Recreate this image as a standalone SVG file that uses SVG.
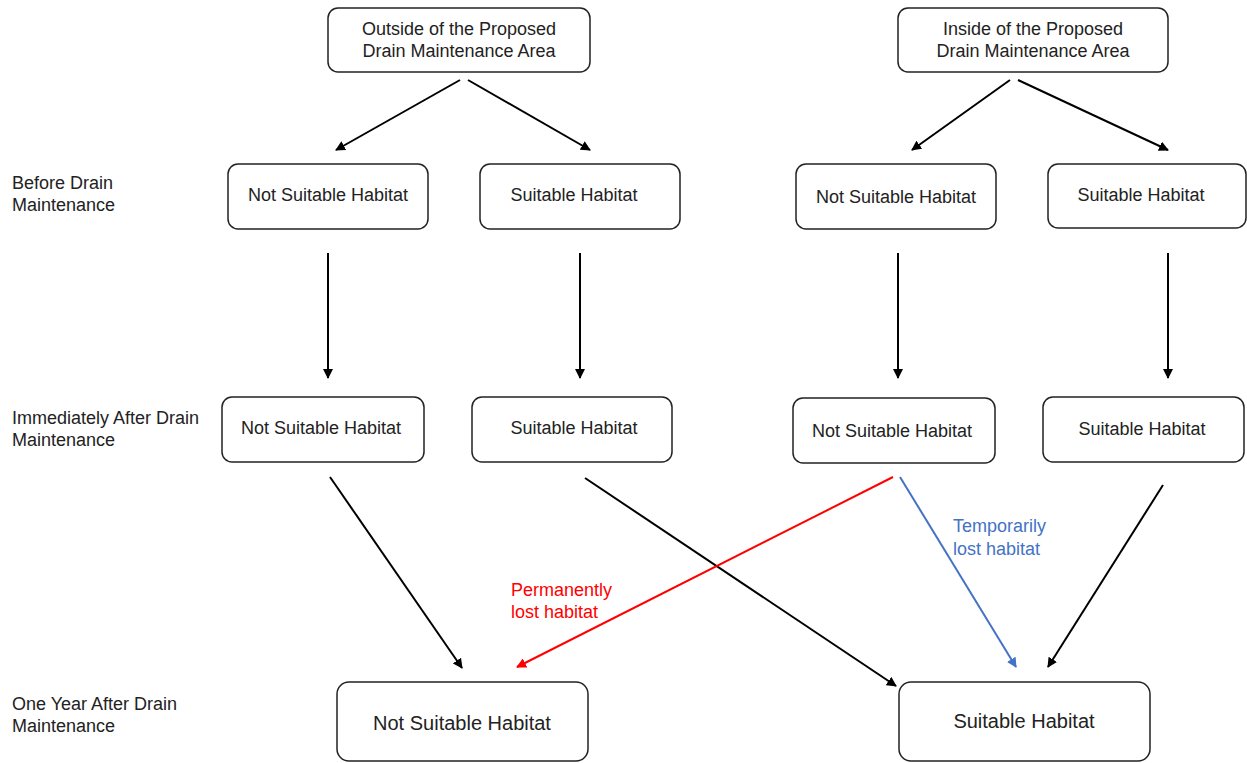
<svg xmlns="http://www.w3.org/2000/svg" width="1247" height="763" viewBox="0 0 1247 763">
<defs>
<marker id="ah" markerWidth="10" markerHeight="10" refX="9" refY="5" orient="auto" markerUnits="userSpaceOnUse"><path d="M0,0 L10,5 L0,10 z" fill="#000"/></marker>
<marker id="ahr" markerWidth="10" markerHeight="10" refX="9" refY="5" orient="auto" markerUnits="userSpaceOnUse"><path d="M0,0 L10,5 L0,10 z" fill="#ff0000"/></marker>
<marker id="ahb" markerWidth="10" markerHeight="10" refX="9" refY="5" orient="auto" markerUnits="userSpaceOnUse"><path d="M0,0 L10,5 L0,10 z" fill="#4472c4"/></marker>
<style>
.box{fill:#fff;stroke:#222;stroke-width:1.5}
text{font-family:"Liberation Sans",Arial,sans-serif;font-size:18px;fill:#222}
.c{text-anchor:middle}
.big{font-size:20px}
.e{fill:none;stroke:#000;stroke-width:2;marker-end:url(#ah)}
.r{fill:none;stroke:#ff0000;stroke-width:2;marker-end:url(#ahr)}
.b{fill:none;stroke:#4472c4;stroke-width:2;marker-end:url(#ahb)}
</style>
</defs>
<rect width="1247" height="763" fill="#fff"/>
<g id="labels">
<text x="12" y="189">Before Drain</text><text x="12" y="211">Maintenance</text>
<text x="12" y="424">Immediately After Drain</text><text x="12" y="446">Maintenance</text>
<text x="12" y="710">One Year After Drain</text><text x="12" y="732">Maintenance</text>
<text x="511" y="596" style="fill:#ff0000">Permanently</text><text x="511" y="618" style="fill:#ff0000">lost habitat</text>
<text x="953" y="532" style="fill:#4472c4">Temporarily</text><text x="953" y="555" style="fill:#4472c4">lost habitat</text>
</g>
<g id="outside"><rect class="box" x="328" y="8" width="262" height="64" rx="10"/><text class="c" x="459" y="35">Outside of the Proposed</text><text class="c" x="459" y="57">Drain Maintenance Area</text></g>
<g id="inside"><rect class="box" x="898" y="8" width="270" height="64" rx="10"/><text class="c" x="1033" y="35">Inside of the Proposed</text><text class="c" x="1033" y="57">Drain Maintenance Area</text></g>
<g id="b1"><rect class="box" x="228" y="164" width="200" height="65" rx="10"/><text class="c" x="328" y="201">Not Suitable Habitat</text></g>
<g id="b2"><rect class="box" x="480" y="164" width="200" height="65" rx="10"/><text class="c" x="574" y="201">Suitable Habitat</text></g>
<g id="b3"><rect class="box" x="796" y="164" width="200" height="65" rx="10"/><text class="c" x="896" y="203">Not Suitable Habitat</text></g>
<g id="b4"><rect class="box" x="1048" y="164" width="198" height="64" rx="10"/><text class="c" x="1141" y="201">Suitable Habitat</text></g>
<g id="i1"><rect class="box" x="222" y="397" width="202" height="65" rx="10"/><text class="c" x="321" y="434">Not Suitable Habitat</text></g>
<g id="i2"><rect class="box" x="472" y="397" width="200" height="65" rx="10"/><text class="c" x="574" y="434">Suitable Habitat</text></g>
<g id="i3"><rect class="box" x="793" y="398" width="202" height="65" rx="10"/><text class="c" x="892" y="437">Not Suitable Habitat</text></g>
<g id="i4"><rect class="box" x="1043" y="397" width="201" height="65" rx="10"/><text class="c" x="1142" y="435">Suitable Habitat</text></g>
<g id="f1"><rect class="box" x="337" y="682" width="251" height="79" rx="12"/><text class="c big" x="462" y="730">Not Suitable Habitat</text></g>
<g id="f2"><rect class="box" x="899" y="682" width="251" height="79" rx="12"/><text class="c big" x="1024" y="728">Suitable Habitat</text></g>
<g id="connectors">
<line class="e" x1="460" y1="80" x2="336" y2="150"/>
<line class="e" x1="468" y1="80" x2="590" y2="150"/>
<line class="e" x1="1010" y1="80" x2="912" y2="150"/>
<line class="e" x1="1018" y1="80" x2="1168" y2="150"/>
<line class="e" x1="328" y1="253" x2="328" y2="378"/>
<line class="e" x1="580" y1="253" x2="580" y2="378"/>
<line class="e" x1="898" y1="253" x2="898" y2="378"/>
<line class="e" x1="1168" y1="253" x2="1168" y2="378"/>
<line class="e" x1="330" y1="477" x2="462" y2="668"/>
<line class="e" x1="585" y1="478" x2="896" y2="686"/>
<line class="r" x1="893" y1="477" x2="517" y2="667"/>
<line class="b" x1="900" y1="477" x2="1016" y2="667"/>
<line class="e" x1="1163" y1="485" x2="1048" y2="667"/>
</g>
</svg>
